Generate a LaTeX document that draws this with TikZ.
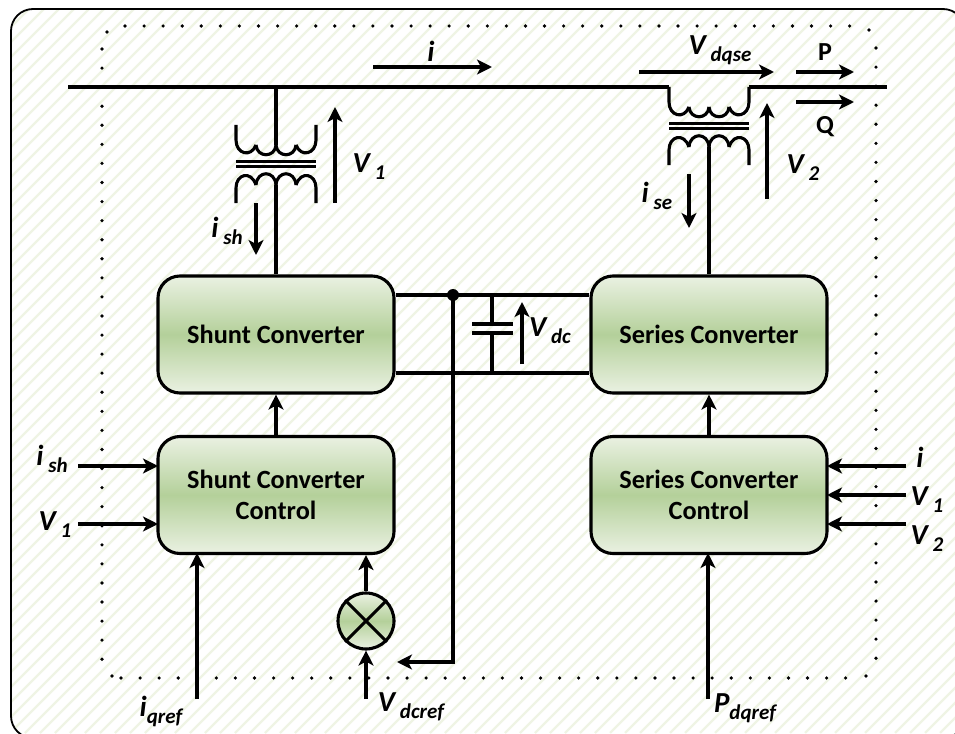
\documentclass[tikz,border=0pt]{standalone}
\usepackage{fontspec}
\setmainfont{Carlito}
\usetikzlibrary{arrows.meta}
\definecolor{hatchgreen}{HTML}{EFF4E4}
\definecolor{boxlight}{HTML}{EAF1E2}
\definecolor{boxmid}{HTML}{B4D09A}
\newcommand{\lblsub}[1]{{\fontsize{21}{21}\selectfont\raisebox{-7pt}{#1}}}
\tikzset{
  conv/.style={draw=black, line width=3.1pt, rounded corners=22pt, minimum width=236pt,
    minimum height=117pt, inner sep=0pt, align=center, top color=boxlight, bottom color=boxlight,
    middle color=boxmid, font=\fontsize{26.3}{31}\selectfont\bfseries},
  wire/.style={line width=3.1pt},
  sig/.style={line width=3.1pt, -{Stealth[length=15pt,width=15pt,inset=4pt]}},
  lbl/.style={inner sep=0pt, font=\fontsize{29}{30}\selectfont\bfseries\itshape},
  plainlbl/.style={inner sep=0pt, font=\fontsize{26}{26}\selectfont\bfseries},
  pics/xformer/.style={code={
    \draw[wire] (0,0) -- (0,15) .. controls (0,29) and (15,33) .. (20,20);
    \draw[wire] (20,20) .. controls (21,33) and (39,33) .. (40,20);
    \draw[wire] (40,20) .. controls (41,33) and (59,33) .. (60,20);
    \draw[wire] (60,20) .. controls (65,33) and (80,29) .. (80,15) -- (80,0);
    \draw[wire] (0,36.5) -- (80,36.5);
    \draw[wire] (0,41.5) -- (80,41.5);
    \draw[wire] (0,78) -- (0,63) .. controls (0,49) and (15,45) .. (20,60);
    \draw[wire] (20,60) .. controls (21,45) and (39,45) .. (40,60);
    \draw[wire] (40,60) .. controls (41,45) and (59,45) .. (60,60);
    \draw[wire] (60,60) .. controls (65,45) and (80,49) .. (80,63) -- (80,78);
  }}
}
\begin{document}
\begin{tikzpicture}[x=1pt, y=-1pt]
    \clip (0,0) rectangle (955,733);
    % background
    \begin{scope}
    \clip[rounded corners=22pt] (11,9) rectangle (965,738);
    \foreach \i in {0,...,112} {
        \draw[hatchgreen, line width=2.4pt] (\i*15-740,733) -- (\i*15-7,0);
    }
    \end{scope}
    \draw[line width=1.8pt, rounded corners=22pt] (11,9) rectangle (965,738);
    % dotted frame
    \foreach \k in {0,...,38} {
        \fill (125+19.07*\k,26) circle (1.8pt);
        \fill (121+19.07*\k,678) circle (1.8pt);
    }
    \foreach \k in {0,...,32} {
        \fill (102,49+19.07*\k) circle (1.8pt);
        \fill (876,48+19.07*\k) circle (1.8pt);
    }
    \fill (107,32) circle (1.8pt);
    \fill (869,30) circle (1.8pt);
    \fill (112,676) circle (1.8pt);
    \fill (866,676) circle (1.8pt);

    % boxes
    \node[conv] (shunt) at (276,334.5) {Shunt Converter};
    \node[conv] (series) at (709,334.5) {Series Converter};
    \node[conv] (shuntctl) at (276,495) {Shunt Converter\\Control};
    \node[conv] (seriesctl) at (709,495) {Series Converter\\Control};
    \node[draw=black, line width=3.1pt, circle, minimum size=56pt, inner sep=0pt,
        top color=boxlight, bottom color=boxlight, middle color=boxmid] (mult) at (366,621) {};
    \draw[wire] (mult.north east) -- (mult.south west);
    \draw[wire] (mult.north west) -- (mult.south east);

    % bus
    \coordinate (busw) at (68,87);
    \coordinate (busshunt) at (276,87);
    \coordinate (busa) at (669,87);
    \coordinate (busb) at (749,87);
    \coordinate (buse) at (887,87);
    \draw[wire] (busw) -- (busa);
    \draw[wire] (busb) -- (buse);
    \pic at (236,125) {xformer};
    \pic at (669,87) {xformer};
    \coordinate (shuntcoilup) at (276,145);
    \coordinate (shuntcoildown) at (276,185);
    \coordinate (seriescoildown) at (709,147);
    \draw[wire] (busshunt) -- (shuntcoilup);
    \draw[wire] (shuntcoildown) -- (shunt.north);
    \draw[wire] (seriescoildown) -- (series.north);

    % dc link
    \coordinate (dctopl) at (shunt.east |- 0,295);
    \coordinate (dctopr) at (series.west |- 0,295);
    \coordinate (dcbotl) at (shunt.east |- 0,373);
    \coordinate (dcbotr) at (series.west |- 0,373);
    \coordinate (dot) at (453,295);
    \coordinate (capt) at (492,295);
    \coordinate (capb) at (492,373);
    \coordinate (capu) at (492,324);
    \coordinate (capd) at (492,333);
    \coordinate (fb) at (453,662);
    \coordinate (fbend) at (397,662);
    \draw[wire] (dctopl) -- (dctopr);
    \draw[wire] (dcbotl) -- (dcbotr);
    \draw[wire] (capt) -- (capu);
    \draw[wire] (capd) -- (capb);
    \draw[wire] (472,324) -- (513,324);
    \draw[wire] (472,333) -- (513,333);
    \fill (dot) circle (6pt);
    \draw[sig] (dot) -- (fb) -- (fbend);

    % control links
    \draw[sig] (shuntctl.north) -- (shunt.south);
    \draw[sig] (seriesctl.north) -- (series.south);
    \draw[sig] (mult.north) -- (mult.north |- shuntctl.south);
    \draw[sig] (366,699) -- (mult.south);
    \draw[sig] (197,699) -- (197,553);
    \draw[sig] (708,699) -- (708,553);
    \draw[sig] (78,466) -- (158,466);
    \draw[sig] (78,524) -- (158,524);
    \draw[sig] (906,466) -- (827,466);
    \draw[sig] (906,495) -- (827,495);
    \draw[sig] (906,524) -- (827,524);

    % upper arrows
    \draw[sig] (373,67) -- (492,67);
    \draw[sig] (639,72) -- (774,72);
    \draw[sig] (796,72) -- (854,72);
    \draw[sig] (796,102) -- (854,102);
    \draw[sig] (335,203) -- (335,107);
    \draw[sig] (767,199) -- (767,103);
    \draw[sig] (256,203) -- (256,255);
    \draw[sig] (689,174) -- (689,228);
    \draw[sig] (522,364) -- (522,302);

    % labels
    \node[lbl] (li) at (431,51) {i};
    \node[lbl] (lvdqse) at (720,50) {V\,\lblsub{dqse}};
    \node[plainlbl] (lp) at (825,52) {P};
    \node[plainlbl] (lq) at (825,127) {Q};
    \node[lbl] (lv1a) at (369,167) {V\,\lblsub{1}};
    \node[lbl] (lv2a) at (803,168) {V\,\lblsub{2}};
    \node[lbl] (lish) at (227,231) {i\,\lblsub{sh}};
    \node[lbl] (lise) at (657,196) {i\,\lblsub{se}};
    \node[lbl] (lvdc) at (550,331) {V\,\lblsub{dc}};
    \node[lbl] (lish2) at (52,459) {i\,\lblsub{sh}};
    \node[lbl] (lv1b) at (55,525) {V\,\lblsub{1}};
    \node[lbl] (li2) at (920,457) {i};
    \node[lbl] (lv1c) at (927,500) {V\,\lblsub{1}};
    \node[lbl] (lv2b) at (927,539) {V\,\lblsub{2}};
    \node[lbl] (liq) at (161,711) {i\lblsub{qref}};
    \node[lbl] (lvd) at (411,707) {V\,\lblsub{dcref}};
    \node[lbl] (lpd) at (745,708) {P\lblsub{dqref}};
\end{tikzpicture}
\end{document}
